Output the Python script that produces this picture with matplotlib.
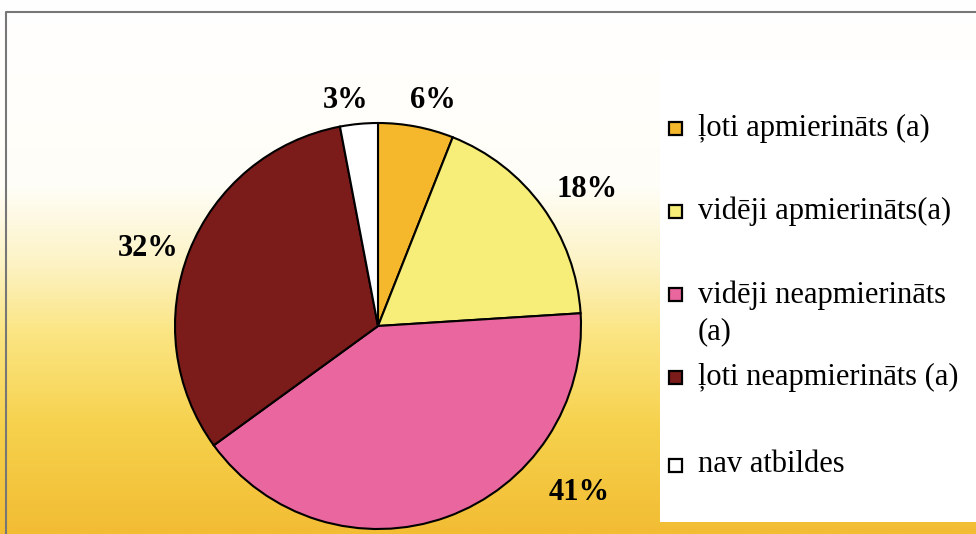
import matplotlib.pyplot as plt
from matplotlib.patches import Rectangle
import numpy as np

# dati
kategorijas = ["ļoti apmierināts (a)", "vidēji apmierināts(a)",
               "vidēji neapmierināts\n(a)", "ļoti neapmierināts (a)", "nav atbildes"]
procenti = [6, 18, 41, 32, 3]
krasas = ["#F5B82C", "#F7EE7A", "#E9679E", "#7B1C1A", "#FFFFFF"]

W, H = 976, 534
fig = plt.figure(figsize=(W / 100, H / 100), dpi=100)

# fons ar gradientu (balts augšā -> dzeltens apakšā)
bg = fig.add_axes([0, 0, 1, 1])
bg.set_xlim(0, W)
bg.set_ylim(H, 0)
bg.axis("off")
yy = np.linspace(0, 1, 300)
stops_y = [0.0, 0.35, 0.5, 0.62, 0.8, 1.0]
r = np.interp(yy, stops_y, [1.0, 1.0, 0.99, 0.985, 0.965, 0.95])
g = np.interp(yy, stops_y, [1.0, 0.995, 0.95, 0.90, 0.82, 0.74])
b = np.interp(yy, stops_y, [1.0, 0.97, 0.76, 0.52, 0.30, 0.20])
grad = np.stack([r, g, b], axis=-1)[:, None, :].repeat(2, axis=1)
bg.imshow(grad, extent=[0, W, H, 0], aspect="auto", zorder=0)

# balts leģendas laukums
bg.add_patch(Rectangle((660, 60), W - 660, 462, facecolor="white", edgecolor="none", zorder=1))
# rāmis
bg.plot([6, 6, W], [H, 12, 12], color="#777777", lw=1.5, zorder=2)

# legenda
leg_y = [128, 211, 294, 377, 465]
for i in range(len(kategorijas)):
    bg.add_patch(Rectangle((669, leg_y[i] - 6), 13, 13, facecolor=krasas[i],
                           edgecolor="black", lw=1.6, zorder=3))
    if "\n" in kategorijas[i]:
        bg.text(698, leg_y[i] - 13, kategorijas[i], fontsize=22, family="Liberation Serif",
                va="top", ha="left", zorder=3, linespacing=1.3)
    else:
        bg.text(698, leg_y[i], kategorijas[i], fontsize=22, family="Liberation Serif",
                va="center", ha="left", zorder=3)

# pīrāgs
cx, cy, R = 378, 326, 203
ax = fig.add_axes([(cx - R) / W, (H - cy - R) / H, 2 * R / W, 2 * R / H])
ax.set_facecolor("none")
wedges, _ = ax.pie(procenti, colors=krasas, startangle=90, counterclock=False,
                   wedgeprops=dict(edgecolor="black", linewidth=1.5))
ax.set_xlim(-1, 1)
ax.set_ylim(-1, 1)
ax.set_aspect("equal")

label_pos = [(0.27, 1.11), (1.03, 0.67), (0.99, -0.82), (-1.13, 0.38), (-0.16, 1.11)]
for p, (x, y) in zip(procenti, label_pos):
    ax.text(x, y, f"{p}%", fontsize=22, fontweight="bold", family="Liberation Serif",
            ha="center", va="center")

plt.savefig("out.png", dpi=100)
